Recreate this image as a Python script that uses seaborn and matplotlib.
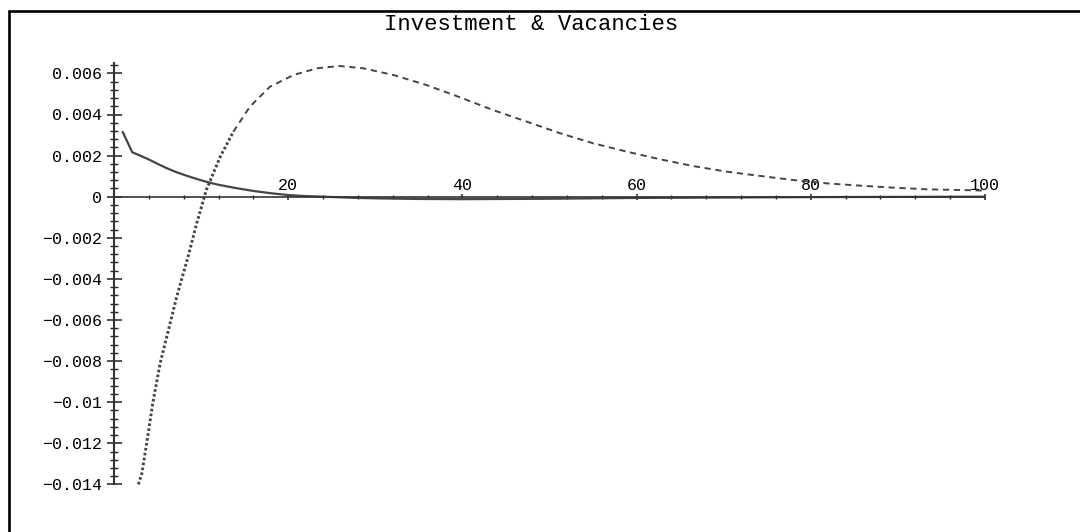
import numpy as np
import pandas as pd
import matplotlib
matplotlib.use("Agg")
import matplotlib.pyplot as plt
from matplotlib.lines import Line2D
from matplotlib.ticker import FixedLocator, FixedFormatter
import seaborn as sns

# ---- data ----
title = "Investment & Vacancies"

inv_x = [1, 2.1, 3, 4, 5, 6, 7, 8, 9, 10, 11, 12, 14, 16, 18, 20, 22, 24,
         26, 28, 30, 35, 40, 45, 50, 55, 60, 70, 80, 90, 100]
inv_y = [0.00315, 0.00216, 0.00200, 0.00181, 0.00160, 0.00140, 0.00122,
         0.00107, 0.00093, 0.00080, 0.00068, 0.00058, 0.00042, 0.00028,
         0.00017, 0.00008, 0.00003, 0.0, -0.00003, -0.00006, -0.00008,
         -0.00011, -0.00012, -0.00011, -0.00010, -0.00008, -0.00006,
         -0.00004, -0.00002, -0.00001, 0.0]

vac_x = [2.8, 3.2, 3.75, 4.45, 5.3, 6.25, 7.2, 8.5, 9.5, 10.6, 11.0, 12.2,
         13.7, 15.6, 17.9, 20.6, 23.3, 25.9, 28.6, 32.1, 35.9, 39.7, 43.5,
         47.4, 51.2, 55.0, 58.9, 62.7, 66.5, 70.3, 74.2, 78.0, 81.8, 85.6,
         89.5, 93.3, 96.7, 100]
vac_y = [-0.0140, -0.01346, -0.0120, -0.01005, -0.0081, -0.00649, -0.00487,
         -0.00292, -0.00129, 0.00033, 0.00073, 0.00195, 0.00316, 0.00438,
         0.00535, 0.00592, 0.00625, 0.00636, 0.00625, 0.00592, 0.00543,
         0.00484, 0.00422, 0.00365, 0.00309, 0.00260, 0.00219, 0.00182,
         0.00149, 0.00122, 0.00101, 0.00081, 0.00065, 0.00054, 0.00044,
         0.00036, 0.00033, 0.00030]

x_major = [20, 40, 60, 80, 100]
x_major_labels = ["20", "40", "60", "80", "100"]
x_minor = [v for v in range(4, 100, 4) if v % 20 != 0]
y_major = [0.006, 0.004, 0.002, 0.0, -0.002, -0.004, -0.006, -0.008,
           -0.01, -0.012, -0.014]
y_major_labels = ["0.006", "0.004", "0.002", "0", "\u22120.002", "\u22120.004",
                  "\u22120.006", "\u22120.008", "\u22120.01", "\u22120.012",
                  "\u22120.014"]
y_minor = [round(-0.014 + 0.0004 * i, 5) for i in range(52)]

# ---- styling ----
sns.set_theme(style="white")
plt.rcParams["font.family"] = ["Liberation Mono", "DejaVu Sans Mono"]
plt.rcParams["axes.unicode_minus"] = True

W, H = 1080, 532
fig = plt.figure(figsize=(W / 100, H / 100), dpi=100)
ax = fig.add_axes([0, 0, 1, 1])
ax.set_facecolor("white")

# pixel -> data mapping of the reference
px0, px_per = 114.0, 8.71
py0, y_per_px = 196.7, 0.002 / 41.1
ax.set_xlim((0 - px0) / px_per, (W - px0) / px_per)
ax.set_ylim((py0 - H) * y_per_px, (py0 - 0) * y_per_px)

line_col = "#454545"
inv = pd.DataFrame({"x": inv_x, "y": inv_y})
vac = pd.DataFrame({"x": vac_x, "y": vac_y})
sns.lineplot(data=inv, x="x", y="y", ax=ax, color=line_col, lw=1.6,
             sort=False, estimator=None)
steep = vac[vac["x"] <= 13.7]
flat = vac[vac["x"] >= 13.7]
sns.lineplot(data=steep, x="x", y="y", ax=ax, color=line_col, lw=2.1,
             linestyle=(0, (0.9, 0.8)), sort=False, estimator=None)
sns.lineplot(data=flat, x="x", y="y", ax=ax, color=line_col, lw=1.4,
             linestyle=(0, (3.2, 2.4)), sort=False, estimator=None)

ax.set_xlabel("")
ax.set_ylabel("")

# axes through the origin
for s in ["left", "bottom", "top"]:
    ax.spines[s].set_position(("data", 0))
ax.spines["right"].set_visible(False)
ax.spines["top"].set_visible(False)
ax.spines["left"].set_bounds(-0.014, 0.0065)
ax.spines["bottom"].set_bounds(0, 100)
ax.spines["left"].set_color("#333333")
ax.spines["bottom"].set_color("#333333")
ax.spines["left"].set_linewidth(1.5)
ax.spines["bottom"].set_linewidth(1.2)

ax.xaxis.set_major_locator(FixedLocator(x_major))
ax.xaxis.set_major_formatter(FixedFormatter(x_major_labels))
ax.xaxis.set_minor_locator(FixedLocator(x_minor))
ax.yaxis.set_major_locator(FixedLocator(y_major))
ax.yaxis.set_major_formatter(FixedFormatter(y_major_labels))
ax.yaxis.set_minor_locator(FixedLocator(y_minor))

ax.tick_params(axis="x", which="both", direction="inout", bottom=True,
               top=False, labelbottom=False, labeltop=True, colors="#222222",
               labelcolor="black", labelsize=12)
ax.tick_params(axis="x", which="major", length=5, width=1.1, pad=0.3)
ax.tick_params(axis="x", which="minor", length=3, width=1.0)
ax.tick_params(axis="y", which="both", direction="inout", left=True,
               right=False, labelleft=True, labelright=False,
               colors="#222222", labelcolor="black", labelsize=12)
ax.tick_params(axis="y", which="major", length=10.8, width=1.1, pad=3.2)
ax.tick_params(axis="y", which="minor", length=5.8, width=1.0)
ax.grid(False)

# title
fig.text(531 / W, 1 - 29.5 / H, title, ha="center", va="baseline",
         fontsize=16, color="black")

# frame (left and top edges visible in the reference)
fig.add_artist(Line2D([8.7 / W, 8.7 / W], [0, 1 - 11.2 / H],
                      transform=fig.transFigure, color="black", lw=1.9))
fig.add_artist(Line2D([8.7 / W, 1], [1 - 11.2 / H, 1 - 11.2 / H],
                      transform=fig.transFigure, color="black", lw=1.9))

fig.savefig("out.png", dpi=100, facecolor="white")
